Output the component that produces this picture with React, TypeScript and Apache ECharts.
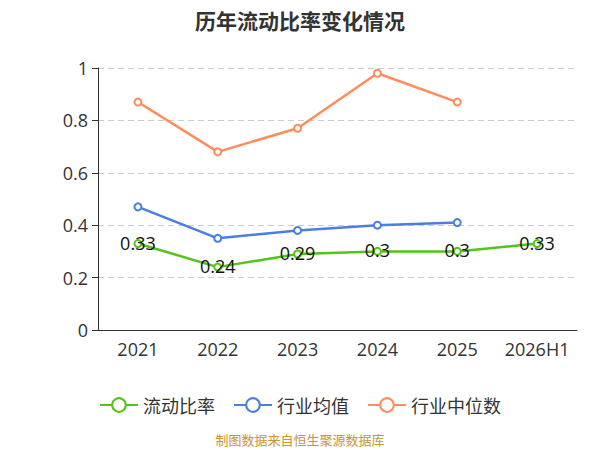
import React, { useEffect, useRef } from "react";
import * as echarts from "echarts";

const categories = ["2021", "2022", "2023", "2024", "2025", "2026H1"];
const currentRatio = [0.33, 0.24, 0.29, 0.3, 0.3, 0.33];
const industryMean = [0.47, 0.35, 0.38, 0.4, 0.41, null];
const industryMedian = [0.87, 0.68, 0.77, 0.98, 0.87, null];

const FONT = "'Open Sans', 'Noto Sans CJK SC', sans-serif";
const CJK = "'Noto Sans CJK SC', sans-serif";

export default function App() {
  const ref = useRef<HTMLDivElement>(null);
  useEffect(() => {
    const chart = echarts.init(ref.current!, null, { renderer: "svg" });
    const mk = (name: string, data: any[], color: string, label: boolean) => ({
      name,
      type: "line",
      data,
      symbol: "emptyCircle",
      symbolSize: 7,
      itemStyle: { color, borderColor: color, borderWidth: 1.5 },
      lineStyle: { color, width: 2.5 },
      emphasis: { disabled: true },
      label: label
        ? {
            show: true,
            position: "inside",
            offset: [0, -1],
            color: "#111",
            fontSize: 18,
            fontFamily: FONT,
          }
        : { show: false },
    });
    chart.setOption({
      animation: false,
      title: {
        text: "历年流动比率变化情况",
        left: "center",
        top: 4,
        textStyle: { fontSize: 21, fontWeight: "bold", color: "#333", fontFamily: CJK },
      },
      legend: {
        top: 391,
        left: "center",
        itemWidth: 38,
        itemHeight: 17,
        itemGap: 18,
        textStyle: { fontSize: 18, color: "#333", fontFamily: CJK },
        data: ["流动比率", "行业均值", "行业中位数"],
      },
      graphic: [
        {
          type: "text",
          left: "center",
          top: 433,
          style: {
            text: "制图数据来自恒生聚源数据库",
            fill: "#c8962e",
            fontSize: 13,
            fontFamily: CJK,
          },
        },
      ],
      grid: { left: 98, right: 23, top: 68, bottom: 120, containLabel: false },
      xAxis: {
        type: "category",
        data: categories,
        boundaryGap: true,
        axisLine: { lineStyle: { color: "#333" } },
        axisTick: { length: 6, interval: 0, lineStyle: { color: "#333" } },
        axisLabel: { fontSize: 18, color: "#333", margin: 10, interval: 0, fontFamily: FONT },
      },
      yAxis: {
        type: "value",
        min: 0,
        max: 1,
        interval: 0.2,
        axisLine: { show: true, lineStyle: { color: "#333" } },
        axisTick: { show: true, length: 6, lineStyle: { color: "#333" } },
        axisLabel: { fontSize: 18, color: "#333", margin: 10, fontFamily: FONT },
        splitLine: { lineStyle: { type: [6, 4], color: "#ccc" } },
      },
      series: [
        mk("流动比率", currentRatio, "#52c41a", true),
        mk("行业均值", industryMean, "#4a7ee0", false),
        mk("行业中位数", industryMedian, "#ff8c5a", false),
      ],
    });
    return () => chart.dispose();
  }, []);
  return (
    <div
      ref={ref}
      style={{ position: "absolute", left: 0, top: 0, width: 600, height: 450 }}
    />
  );
}
